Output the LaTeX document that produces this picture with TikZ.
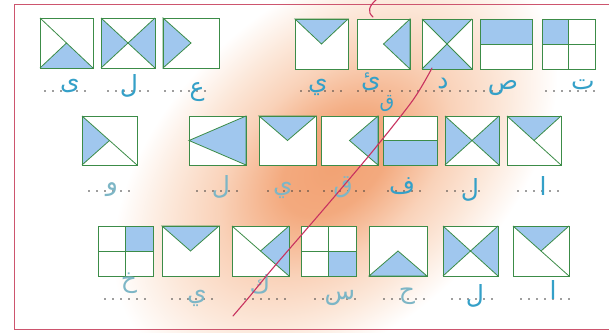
\documentclass[tikz,border=0pt]{standalone}
\usepackage{fontspec}
\newfontfamily\arabicfont[Script=Arabic]{DejaVu Sans}
\TeXXeTstate=1

\definecolor{tilegreen}{RGB}{60,140,72}
\definecolor{tileblue}{RGB}{160,199,238}
\definecolor{inkblue}{RGB}{52,160,200}
\definecolor{paleink}{RGB}{125,182,198}
\definecolor{framered}{RGB}{205,85,110}
\definecolor{penred}{RGB}{200,50,95}
\definecolor{smudgecore}{RGB}{242,162,115}
\definecolor{smudgemid}{RGB}{248,200,170}
\definecolor{smudgeedge}{RGB}{252,232,218}
\definecolor{dotgray}{RGB}{60,60,60}

\pgfdeclareradialshading{smudge}{\pgfpoint{0bp}{0bp}}{color(0bp)=(smudgecore); color(6bp)=(smudgecore!80!smudgemid); color(13bp)=(smudgemid!70!smudgeedge); color(19bp)=(smudgeedge); color(25bp)=(white); color(50bp)=(white)}

% tile patterns
\newcommand{\tpdB}{\fill[bluefill] (bl)--(c)--(br)--cycle; \draw[cut] (tl)--(br) (bl)--(c);}
\newcommand{\tpdL}{\fill[bluefill] (tl)--(c)--(bl)--cycle; \draw[cut] (tl)--(br) (bl)--(c);}
\newcommand{\tpdT}{\fill[bluefill] (tl)--(c)--(tr)--cycle; \draw[cut] (tl)--(br) (tr)--(c);}
\newcommand{\tpdR}{\fill[bluefill] (tr)--(c)--(br)--cycle; \draw[cut] (tl)--(br) (tr)--(c);}
\newcommand{\tpxLR}{\fill[bluefill] (tl)--(c)--(bl)--cycle (tr)--(c)--(br)--cycle; \draw[cut] (tl)--(br) (tr)--(bl);}
\newcommand{\tpxTB}{\fill[bluefill] (tl)--(c)--(tr)--cycle (bl)--(c)--(br)--cycle; \draw[cut] (tl)--(br) (tr)--(bl);}
\newcommand{\tptL}{\filldraw[bluefill,cut] (tl)--(c)--(bl)--cycle;}
\newcommand{\tptT}{\filldraw[bluefill,cut] (tl)--(c)--(tr)--cycle;}
\newcommand{\tptR}{\filldraw[bluefill,cut] (tr)--(c)--(br)--cycle;}
\newcommand{\tptB}{\filldraw[bluefill,cut] (bl)--(c)--(br)--cycle;}
\newcommand{\tphT}{\fill[bluefill] (tl) rectangle (mr); \draw[cut] (ml)--(mr);}
\newcommand{\tphB}{\fill[bluefill] (ml) rectangle (br); \draw[cut] (ml)--(mr);}
\newcommand{\tpqTL}{\fill[bluefill] (tl) rectangle (c); \draw[cut] (ml)--(mr) (mt)--(mb);}
\newcommand{\tpqTR}{\fill[bluefill] (mt) rectangle (mr); \draw[cut] (ml)--(mr) (mt)--(mb);}
\newcommand{\tpqBR}{\fill[bluefill] (c) rectangle (br); \draw[cut] (ml)--(mr) (mt)--(mb);}
\newcommand{\tpbigR}{\filldraw[bluefill,cut] (ml)--(tr)--(br)--cycle;}

% left, right, top, bottom, pattern
\newcommand{\wordtile}[5]{%
  \coordinate (tl) at (#1,#3); \coordinate (tr) at (#2,#3);
  \coordinate (bl) at (#1,#4); \coordinate (br) at (#2,#4);
  \path (tl) -- (br) coordinate[pos=.5] (c);
  \path (tl) -- (bl) coordinate[pos=.5] (ml);
  \path (tr) -- (br) coordinate[pos=.5] (mr);
  \path (tl) -- (tr) coordinate[pos=.5] (mt);
  \path (bl) -- (br) coordinate[pos=.5] (mb);
  \fill[white] (tl) rectangle (br);
  \csname tp#5\endcsname
  \draw[tilebox] (tl) rectangle (br);
}

\begin{document}
\begin{tikzpicture}[
    x=1pt, y=-1pt,
    tilebox/.style={draw=tilegreen, line width=0.9pt},
    bluefill/.style={fill=tileblue},
    cut/.style={draw=tilegreen, line width=0.8pt},
    writeline/.style={draw=dotgray, line width=1.7pt, line cap=round, dash pattern=on 0pt off 8pt},
    letter/.style={text=inkblue, font=\arabicfont\fontsize{25}{25}\selectfont, inner sep=0pt},
    paleletter/.style={letter, text=paleink},
    frame/.style={draw=framered, line width=1pt},
    pen/.style={draw=penred, line width=1.1pt, line cap=round}
  ]
    \useasboundingbox (0,0) rectangle (609,332);
    \fill[white] (0,0) rectangle (609,332);
    \begin{scope}[transform canvas={rotate around={42:(335,165)}}]
      \shade[shading=smudge] (335,165) ellipse [x radius=260, y radius=165];
    \end{scope}
    \draw[frame] (609,4) -- (14,4) -- (14,329) -- (609,329);

    % row 1
    \wordtile{40}{93}{18}{68}{dB}
    \wordtile{101}{155}{18}{68}{xLR}
    \wordtile{163}{219}{18}{68}{tL}
    \wordtile{295}{348}{19}{69}{tT}
    \wordtile{357}{410}{19}{69}{tR}
    \wordtile{422}{472}{19}{69}{xTB}
    \wordtile{480}{532}{19}{69}{hT}
    \wordtile{542}{595}{19}{69}{qTL}
    % row 2
    \wordtile{82}{137}{116}{165}{dL}
    \wordtile{189}{246}{116}{165}{bigR}
    \wordtile{259}{316}{116}{165}{tT}
    \wordtile{321}{378}{116}{165}{tR}
    \wordtile{383}{437}{116}{165}{hB}
    \wordtile{445}{499}{116}{165}{xLR}
    \wordtile{507}{561}{116}{165}{dT}
    % row 3
    \wordtile{98}{153}{226}{276}{qTR}
    \wordtile{162}{219}{226}{276}{tT}
    \wordtile{232}{289}{226}{276}{dR}
    \wordtile{301}{356}{226}{276}{qBR}
    \wordtile{369}{427}{226}{276}{tB}
    \wordtile{443}{498}{226}{276}{xLR}
    \wordtile{513}{569}{226}{276}{dT}

    % writing lines
    \draw[writeline] (45,91) -- (90,91);
    \draw[writeline] (108,91) -- (148,91);
    \draw[writeline] (165,91) -- (208,91);
    \draw[writeline] (301,91) -- (348,91);
    \draw[writeline] (358,91) -- (394,91);
    \draw[writeline] (402,91) -- (450,91);
    \draw[writeline] (460,91) -- (500,91);
    \draw[writeline] (546,91) -- (600,91);
    \draw[writeline] (89,191) -- (134,191);
    \draw[writeline] (197,191) -- (240,191);
    \draw[writeline] (268,191) -- (308,191);
    \draw[writeline] (324,191) -- (364,191);
    \draw[writeline] (388,191) -- (422,191);
    \draw[writeline] (447,191) -- (483,191);
    \draw[writeline] (518,191) -- (560,191);
    \draw[writeline] (105,299) -- (151,299);
    \draw[writeline] (172,299) -- (217,299);
    \draw[writeline] (245,299) -- (289,299);
    \draw[writeline] (315,299) -- (357,299);
    \draw[writeline] (384,299) -- (427,299);
    \draw[writeline] (452,299) -- (497,299);
    \draw[writeline] (521,299) -- (569,299);

    % letters
    \node[letter] (yaaA) at (70,86) {\beginR ى\endR};
    \node[letter] (lamA) at (129,86) {\beginR ل\endR};
    \node[letter] (ainA) at (197,92) {\beginR ع\endR};
    \node[letter] (yaaB) at (318,87) {\beginR ي\endR};
    \node[letter] (hamA) at (371,82) {\beginR ئ\endR};
    \node[letter, font=\arabicfont\fontsize{19}{19}\selectfont] (qafA) at (387,104) {\beginR ق\endR};
    \node[letter] (dalA) at (443,84) {\beginR د\endR};
    \node[letter] (sadA) at (503,88) {\beginR ص\endR};
    \node[letter] (taaA) at (583,85) {\beginR ت\endR};
    \node[paleletter] (wawA) at (112,190) {\beginR و\endR};
    \node[paleletter] (lamB) at (221,187) {\beginR ل\endR};
    \node[paleletter] (yaaC) at (283,190) {\beginR ي\endR};
    \node[paleletter] (qafB) at (343,187) {\beginR ق\endR};
    \node[letter] (faaA) at (402,186) {\beginR ف\endR};
    \node[letter] (lamC) at (470,190) {\beginR ل\endR};
    \node[letter] (alfA) at (543,186) {\beginR ا\endR};
    \node[paleletter] (khaA) at (129,283) {\beginR خ\endR};
    \node[paleletter] (yaaD) at (197,298) {\beginR ي\endR};
    \node[paleletter] (kafA) at (260,284) {\beginR ك\endR};
    \node[paleletter] (sinA) at (340,298) {\beginR س\endR};
    \node[paleletter] (haaA) at (407,296) {\beginR ح\endR};
    \node[letter] (lamD) at (475,296) {\beginR ل\endR};
    \node[letter] (alfB) at (553,290) {\beginR ا\endR};

    % pen strokes
    \draw[pen] (376,0) .. controls (369,6) and (367,12) .. (373,17);
    \draw[pen] plot[smooth] coordinates {(432,68) (413,100) (372,152) (323,210) (273,268) (250,296) (233,316)};
  \end{tikzpicture}
\end{document}
